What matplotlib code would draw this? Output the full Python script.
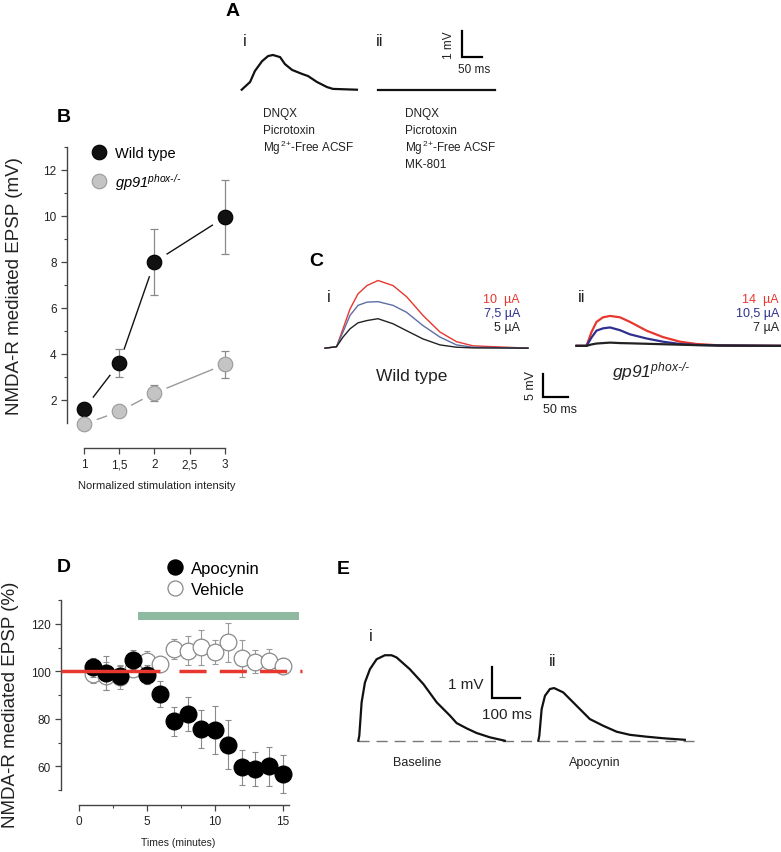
import numpy as np
import matplotlib
matplotlib.use("Agg")
import matplotlib.pyplot as plt
from matplotlib.ticker import FixedLocator

W, H = 781, 853
plt.rcParams["font.family"] = ["Liberation Sans", "DejaVu Sans"]
plt.rcParams["mathtext.fontset"] = "custom"
plt.rcParams["mathtext.rm"] = "Liberation Sans"
plt.rcParams["mathtext.it"] = "Liberation Sans:italic"
plt.rcParams["mathtext.sf"] = "Liberation Sans:italic"
plt.rcParams["mathtext.bf"] = "Liberation Sans:bold"

# --- panel A: NMDA-R EPSP traces (ms, mV)
a_t = [0, 21, 33, 51, 66, 78, 96, 108, 126, 151, 166, 188, 213, 228, 288]
a_ctrl = [0, 0.29, 0.70, 1.07, 1.26, 1.30, 1.22, 0.96, 0.74, 0.59, 0.51, 0.29, 0.10, 0.03, 0]
a_mk_t = [0, 293]
a_mk = [0, 0]

# --- panel B: EPSP vs normalized stimulation intensity
intensity = [1, 1.5, 2, 3]
wt_mean = [1.6, 3.6, 8.0, 9.95]
wt_sem = [0.15, 0.6, 1.45, 1.6]
ko_mean = [0.95, 1.5, 2.3, 3.55]
ko_sem = [0.1, 0.1, 0.35, 0.58]

# --- panel C: traces at three intensities (ms, mV)
c_t = [0, 23, 36, 50, 66, 84, 106, 136, 163, 196, 230, 263, 296, 406]
c_wt_hi = [0, 0.3, 4.2, 8.5, 11.8, 13.6, 14.7, 13.6, 11.2, 7.1, 3.5, 1.4, 0.5, 0]
c_wt_mid = [0, 0.3, 3.5, 7.1, 9.3, 10.0, 10.1, 9.3, 7.8, 4.9, 2.4, 0.7, 0.2, 0]
c_wt_lo = [0, 0.3, 2.4, 4.2, 5.5, 6.0, 6.4, 5.3, 3.8, 2.0, 0.7, 0.2, 0.05, 0]
cii_t = [-20, 0, 10, 20, 33, 47, 67, 87, 120, 153, 187, 220, 267, 387]
c_ko_hi = [0, 0, 3.0, 5.2, 6.2, 6.5, 6.2, 5.2, 3.3, 1.9, 0.9, 0.4, 0.1, 0]
c_ko_mid = [0, 0, 1.8, 3.3, 3.8, 4.0, 3.4, 2.5, 1.6, 0.9, 0.4, 0.2, 0.1, 0]
c_ko_lo = [0, 0, 0.3, 0.5, 0.6, 0.7, 0.6, 0.55, 0.45, 0.35, 0.25, 0.15, 0.05, 0]
wt_labels = ["10  µA", "7,5 µA", "5 µA"]
ko_labels = ["14  µA", "10,5 µA", "7 µA"]

# --- panel D: time course
minutes = list(range(1, 16))
apo_mean = [101.7, 99.3, 98.2, 104.9, 98.6, 90.5, 78.9, 82.0, 75.7, 75.3, 69.1, 59.6, 58.9, 59.9, 56.8]
apo_sem = [4, 7, 4, 4, 4, 5.6, 6.2, 7, 7.9, 10.2, 10.4, 7.3, 7.3, 8.4, 8]
veh_mean = [99.0, 98.0, 97.5, 101.0, 104.5, 103.1, 109.4, 108.7, 110.1, 108.0, 112.2, 105.5, 104.1, 104.5, 102.4]
veh_sem = [4, 6, 5, 3, 4, 3, 4.2, 6, 7.4, 5.1, 8.1, 7.7, 5, 5, 3]
treat_start, treat_end = 4.35, 16.2

# --- panel E: baseline vs apocynin traces (ms, mV)
e_t = [0, 3.6, 12, 24, 42, 66, 96, 120, 138, 186, 235, 283, 331, 355, 391, 427, 475, 529]
e_base = [0, 0.16, 1.24, 1.88, 2.31, 2.63, 2.76, 2.76, 2.69, 2.31, 1.83, 1.24, 0.81, 0.57, 0.40, 0.25, 0.11, 0]
eii_t = [0, 3.6, 12, 24, 42, 57, 90, 138, 186, 235, 283, 331, 391, 451, 529]
e_apo = [0, 0.16, 1.02, 1.45, 1.67, 1.70, 1.56, 1.13, 0.70, 0.48, 0.29, 0.19, 0.13, 0.08, 0.03]

RED = "#e8372e"
BLUE_I = "#5d6ea6"
BLUE_II = "#2f2f8e"
TXT = "#222222"
KO_LABEL = r"$\mathsf{gp91}^{\mathsf{phox‐/‐}}$"
MG_FREE = r"Mg$^{\,2\text{+}}$-Free ACSF"

fig = plt.figure(figsize=(W / 100, H / 100), dpi=100)


def px_axes(x0, y0, x1, y1):
    return fig.add_axes([x0 / W, 1 - y1 / H, (x1 - x0) / W, (y1 - y0) / H])


def px_text(x, y, s, **kw):
    kw.setdefault("va", "center")
    kw.setdefault("color", TXT)
    return fig.text(x / W, 1 - y / H, s, **kw)


def style_axis(ax):
    for side in ("top", "right"):
        ax.spines[side].set_visible(False)
    for side in ("left", "bottom"):
        ax.spines[side].set_color("#444444")
        ax.spines[side].set_linewidth(1.0)
    ax.tick_params(which="major", direction="out", length=4, width=0.9,
                   labelsize=8.5, colors="#444444", labelcolor=TXT)
    ax.tick_params(which="minor", direction="out", length=2.5, width=0.8, colors="#444444")


# ---------------- panel A
axa = px_axes(235, 25, 500, 100)
axa.axis("off")
axa.set_xlim(-16.75, 645.75)
axa.set_ylim(-0.348, 2.46)
axa.plot(a_t, a_ctrl, color="#111111", lw=1.6)
axa.plot(np.array(a_mk_t) + 341, a_mk, color="#111111", lw=1.6)
axa.plot([550, 550, 600], [2.21, 1.21, 1.21], color="k", lw=1.6, solid_joinstyle="miter")
px_text(233, 12, "A", fontsize=14, fontweight="bold", ha="center", color="k")
px_text(243, 42, "i", fontsize=12)
px_text(376, 42, "ii", fontsize=12)
px_text(449, 45, "1 mV", fontsize=8.5, rotation=90, ha="center")
px_text(458, 70, "50 ms", fontsize=8.5, ha="left")
for i, s in enumerate(["DNQX", "Picrotoxin", MG_FREE]):
    px_text(263, 114 + 17 * i, s, fontsize=8.5, ha="left")
for i, s in enumerate(["DNQX", "Picrotoxin", MG_FREE, "MK-801"]):
    px_text(405, 114 + 17 * i, s, fontsize=8.5, ha="left")

# ---------------- panel B
axb = px_axes(67, 148, 240, 449)
axb.set_xlim(0.759, 3.213)
axb.set_ylim(-0.087, 13.0)
style_axis(axb)
axb.spines["left"].set_bounds(1, 13)
axb.spines["bottom"].set_bounds(1, 3)
axb.set_xticks([1, 1.5, 2, 2.5, 3])
axb.set_xticklabels(["1", "1,5", "2", "2,5", "3"])
axb.set_yticks([2, 4, 6, 8, 10, 12])
axb.yaxis.set_minor_locator(FixedLocator([3, 5, 7, 9, 11, 13]))
axb.plot(intensity, wt_mean, color="#111111", lw=1.0, zorder=1)
axb.plot(intensity, ko_mean, color="#9a9a9a", lw=1.0, zorder=1)
axb.plot(intensity, wt_mean, "o", ms=21, mfc="white", mec="none", zorder=2)
axb.plot(intensity, ko_mean, "o", ms=19, mfc="white", mec="none", zorder=2)
axb.errorbar(intensity, wt_mean, yerr=wt_sem, fmt="none", ecolor="#8a8a8a",
             elinewidth=0.9, capsize=3, capthick=0.9, zorder=3)
axb.errorbar(intensity, ko_mean, yerr=ko_sem, fmt="none", ecolor="#8a8a8a",
             elinewidth=0.9, capsize=3, capthick=0.9, zorder=3)
hw, = axb.plot(intensity, wt_mean, "o", ms=10.5, mfc="#111111", mec="#000000", mew=0.8,
               zorder=4, label="Wild type")
hk, = axb.plot(intensity, ko_mean, "o", ms=10.5, mfc="#c4c4c4", mec="#9a9a9a", mew=0.8,
               zorder=4, label=KO_LABEL)
axb.legend(handles=[hw, hk], loc="upper left", bbox_to_anchor=(93 / W, 1 - 147 / H),
           bbox_transform=fig.transFigure, frameon=False, fontsize=10.5,
           handlelength=0.8, handletextpad=0.7, labelspacing=0.75,
           borderpad=0, borderaxespad=0, numpoints=1)
px_text(64, 118, "B", fontsize=14, fontweight="bold", ha="center", color="k")
px_text(15, 286, "NMDA-R mediated EPSP (mV)", fontsize=13.5, rotation=90, ha="center")
px_text(157, 486, "Normalized stimulation intensity", fontsize=8, ha="center")

# ---------------- panel C
axc = px_axes(310, 270, 781, 420)
axc.axis("off")
axc.set_xlim(-30, 912)
axc.set_ylim(-15.4, 17.2)
ko_off, ko_base = 523, 0.5
axc.plot(c_t, c_wt_lo, color="#222222", lw=1.0, zorder=3)
axc.plot(c_t, c_wt_mid, color=BLUE_I, lw=1.0, zorder=2)
axc.plot(c_t, c_wt_hi, color=RED, lw=1.0, zorder=1)
axc.plot(np.array(cii_t) + ko_off, np.array(c_ko_hi) + ko_base, color=RED, lw=1.6, zorder=1)
axc.plot(np.array(cii_t) + ko_off, np.array(c_ko_mid) + ko_base, color=BLUE_II, lw=1.6, zorder=2)
axc.plot(np.array(cii_t) + ko_off, np.array(c_ko_lo) + ko_base, color="#222222", lw=1.6, zorder=3)
axc.plot([436, 436, 486], [-5.6, -10.6, -10.6], color="k", lw=1.6, solid_joinstyle="miter")
px_text(316, 262, "C", fontsize=14, fontweight="bold", ha="center", color="k")
px_text(327, 298, "i", fontsize=12)
px_text(578, 298, "ii", fontsize=12)
for i, (s, c) in enumerate(zip(wt_labels, [RED, BLUE_II, "#222222"])):
    px_text(520, 300 + 14 * i, s, fontsize=9, ha="right", color=c)
for i, (s, c) in enumerate(zip(ko_labels, [RED, BLUE_II, "#222222"])):
    px_text(779, 300 + 14 * i, s, fontsize=9, ha="right", color=c)
px_text(412, 376, "Wild type", fontsize=12.5, ha="center")
px_text(612, 372, KO_LABEL, fontsize=12.5, ha="left")
px_text(531, 386, "5 mV", fontsize=9, rotation=90, ha="center")
px_text(543, 410, "50 ms", fontsize=9, ha="left")

# ---------------- panel D
axd = px_axes(61, 560, 305, 805.7)
axd.set_xlim(-1.325, 16.65)
axd.set_ylim(43.8, 147.3)
style_axis(axd)
axd.spines["left"].set_bounds(50, 130)
axd.spines["bottom"].set_bounds(0, 15.5)
axd.set_xticks([0, 5, 10, 15])
axd.xaxis.set_minor_locator(FixedLocator([2.5, 7.5, 12.5]))
axd.set_yticks([60, 80, 100, 120])
axd.yaxis.set_minor_locator(FixedLocator([50, 70, 90, 110, 130]))
axd.broken_barh([(treat_start, treat_end - treat_start)], (121.7, 3.3),
                facecolors="#8fb9a1", zorder=1)
axd.errorbar(minutes, veh_mean, yerr=veh_sem, fmt="none", ecolor="#999999",
             elinewidth=0.8, capsize=2.5, capthick=0.8, zorder=2)
hv, = axd.plot(minutes, veh_mean, "o", ms=12, mfc="white", mec="#8a8a8a", mew=0.9,
               zorder=3, label="Vehicle")
axd.errorbar(minutes, apo_mean, yerr=apo_sem, fmt="none", ecolor="#8a8a8a",
             elinewidth=0.8, capsize=2.5, capthick=0.8, zorder=4)
ha_, = axd.plot(minutes, apo_mean, "o", ms=12, mfc="#000000", mec="#000000",
                zorder=5, label="Apocynin")
axd.plot([-1.325, 6.0], [100, 100], color=RED, lw=2.5, zorder=6, solid_capstyle="butt")
axd.plot([7.4, 16.4], [100, 100], color=RED, lw=2.5, zorder=6, dashes=(7.8, 3.8))
axd.legend(handles=[ha_, hv], loc="upper left", bbox_to_anchor=(168 / W, 1 - 562 / H),
           bbox_transform=fig.transFigure, frameon=False, fontsize=12,
           handlelength=0.8, handletextpad=0.6, labelspacing=0.35,
           borderpad=0, borderaxespad=0, numpoints=1, markerscale=0.9)
px_text(64, 568, "D", fontsize=14, fontweight="bold", ha="center", color="k")
px_text(11, 705, "NMDA-R mediated EPSP (%)", fontsize=13.5, rotation=90, ha="center")
px_text(178, 843, "Times (minutes)", fontsize=7.5, ha="center")

# ---------------- panel E
axe = px_axes(345, 620, 720, 760)
axe.axis("off")
axe.set_xlim(-48, 1306)
axe.set_ylim(-0.59, 3.93)
apo_off = 650
axe.plot([0, 1233], [0, 0], color="#777777", lw=1.0, dashes=(8, 5), zorder=1)
axe.plot(e_t, e_base, color="#111111", lw=1.6, zorder=2)
axe.plot(np.array(eii_t) + apo_off, e_apo, color="#111111", lw=1.6, zorder=2)
axe.plot([484, 484, 584], [2.37, 1.37, 1.37], color="k", lw=1.6, solid_joinstyle="miter")
px_text(343, 570, "E", fontsize=14, fontweight="bold", ha="center", color="k")
px_text(369, 637, "i", fontsize=12)
px_text(549, 662, "ii", fontsize=12)
px_text(484, 685, "1 mV", fontsize=11, ha="right")
px_text(507, 715, "100 ms", fontsize=11, ha="center")
px_text(417, 763, "Baseline", fontsize=9, ha="center")
px_text(595, 763, "Apocynin", fontsize=9, ha="center")

fig.savefig("out.png", dpi=100, facecolor="white")
